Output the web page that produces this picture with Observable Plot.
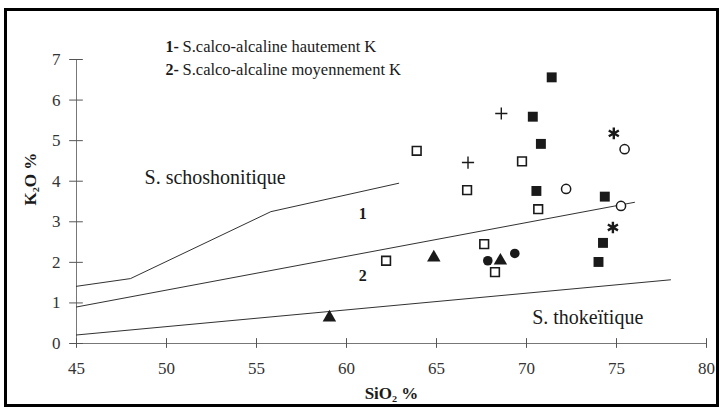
<!DOCTYPE html>
<html>
<head>
<meta charset="utf-8">
<script src="https://cdn.jsdelivr.net/npm/d3@7"></script>
<script src="https://cdn.jsdelivr.net/npm/@observablehq/plot@0.6"></script>
<style>
  html, body { margin: 0; padding: 0; background: #fff; }
  #chart { width: 722px; height: 410px; }
</style>
</head>
<body>
<div id="chart"></div>
<script>
// Axis ticks
const xTicks = [45, 50, 55, 60, 65, 70, 75, 80];
const yTicks = [0, 1, 2, 3, 4, 5, 6, 7];

// Field boundaries (SiO2 %, K2O %)
const shoshoniticBoundary = [[45, 1.41], [48, 1.6], [55.8, 3.25], [62.9, 3.95]];
const highKBoundary = [[45, 0.9], [76, 3.48]];
const tholeiiticBoundary = [[45, 0.21], [78, 1.57]];

// Samples (SiO2 %, K2O %)
const filledSquares = [[71.4, 6.56], [70.35, 5.59], [70.8, 4.92], [70.55, 3.76], [74.35, 3.62], [74.25, 2.48], [74.0, 2.01]];
const openSquares = [[63.9, 4.75], [66.7, 3.78], [69.75, 4.49], [70.65, 3.31], [67.65, 2.45], [62.2, 2.04], [68.25, 1.76]];
const crosses = [[68.6, 5.67], [66.75, 4.46]];
const asterisks = [[74.85, 5.18], [74.8, 2.86]];
const openCircles = [[75.45, 4.79], [72.2, 3.81], [75.25, 3.39]];
const filledCircles = [[67.85, 2.04], [69.35, 2.22]];
const filledTriangles = [[59.05, 0.64], [64.85, 2.12], [68.55, 2.04]];

// Field names and zone numbers (SiO2 %, K2O %)
const fieldNames = [["S. schoshonitique", 52.7, 4.09], ["S. thokeïtique", 73.4, 0.63]];
const zoneNumbers = [["1", 60.9, 3.19], ["2", 60.9, 1.67]];

// Legend of the numbered zones
const legendNumbers = ["1-", "2-"];
const legendTexts = ["S.calco-alcaline hautement K", "S.calco-alcaline moyennement K"];

const pts = a => a.map(([x, y]) => ({x, y}));
const ink = "#1a1a1a";
const serif = "Liberation Serif";

// one legend row: bold number followed by the description
const legendRow = (i, dy) => [
  Plot.text([legendNumbers[i]], {frameAnchor: "top-left", dx: 89, dy, textAnchor: "start", lineAnchor: "middle", fontSize: 16, fontWeight: "bold", fontFamily: serif, fill: ink}),
  Plot.text([legendTexts[i]], {frameAnchor: "top-left", dx: 106, dy, textAnchor: "start", lineAnchor: "middle", fontSize: 16.5, fontFamily: serif, fill: ink})
];

const chart = Plot.plot({
  width: 722,
  height: 410,
  marginLeft: 76,
  marginRight: 16,
  marginTop: 59,
  marginBottom: 67,
  style: {fontFamily: serif, fontSize: "15px", background: "#fff", color: ink},
  x: {domain: [45, 80]},
  y: {domain: [0, 7]},
  marks: [
    // axis lines and crossing ticks
    Plot.ruleY([0], {stroke: "#777", strokeWidth: 1}),
    Plot.ruleX([45], {stroke: "#777", strokeWidth: 1}),
    Plot.ruleX(xTicks, {x: d => d, y1: -0.12, y2: 0.12, stroke: "#555"}),
    Plot.ruleY(yTicks, {y: d => d, x1: 44.62, x2: 45.38, stroke: "#555"}),
    Plot.axisX({ticks: xTicks, tickFormat: d => String(d), tickSize: 0, tickPadding: 18, label: null, fill: "#333", fontSize: 17, fontFamily: serif}),
    Plot.axisY({ticks: yTicks, tickFormat: d => String(d), tickSize: 0, tickPadding: 16, label: null, fill: "#333", fontSize: 17, fontFamily: serif}),

    // field boundaries
    Plot.line(pts(shoshoniticBoundary), {x: "x", y: "y", stroke: ink, strokeWidth: 0.9}),
    Plot.line(pts(highKBoundary), {x: "x", y: "y", stroke: ink, strokeWidth: 0.9}),
    Plot.line(pts(tholeiiticBoundary), {x: "x", y: "y", stroke: ink, strokeWidth: 0.9}),

    // samples
    Plot.dot(pts(filledSquares), {x: "x", y: "y", symbol: "square", r: 5.6, fill: ink, stroke: "none"}),
    Plot.dot(pts(openSquares), {x: "x", y: "y", symbol: "square", r: 4.9, fill: "#fff", stroke: ink, strokeWidth: 1.6}),
    Plot.dot(pts(crosses), {x: "x", y: "y", symbol: "plus", r: 4, fill: "none", stroke: ink, strokeWidth: 1.4}),
    Plot.dot(pts(asterisks), {x: "x", y: "y", symbol: "asterisk", r: 5.5, fill: "none", stroke: ink, strokeWidth: 2.4}),
    Plot.dot(pts(openCircles), {x: "x", y: "y", symbol: "circle", r: 4.6, fill: "#fff", stroke: ink, strokeWidth: 1.5}),
    Plot.dot(pts(filledCircles), {x: "x", y: "y", symbol: "circle", r: 4.8, fill: ink, stroke: "none"}),
    Plot.dot(pts(filledTriangles), {x: "x", y: "y", symbol: "triangle", r: 5, fill: ink, stroke: "none"}),

    // field names and zone numbers
    Plot.text(fieldNames, {x: d => d[1], y: d => d[2], text: d => d[0], fontSize: 20, fontFamily: serif, fill: ink}),
    Plot.text(zoneNumbers, {x: d => d[1], y: d => d[2], text: d => d[0], fontSize: 16, fontWeight: "bold", fontFamily: serif, fill: ink}),

    // legend
    ...legendRow(0, -13),
    ...legendRow(1, 10),

    // axis titles
    Plot.text(["SiO₂ %"], {frameAnchor: "bottom", dy: 55, fontSize: 17, fontWeight: "bold", fontFamily: serif, fill: ink}),
    Plot.text(["K₂O %"], {frameAnchor: "left", dx: -46, dy: 4, rotate: -90, fontSize: 17, fontWeight: "bold", fontFamily: serif, fill: ink})
  ]
});

// outer frame around the whole figure
d3.select(chart).append("rect")
  .attr("x", 5.5).attr("y", 9.5)
  .attr("width", 712).attr("height", 396)
  .attr("fill", "none").attr("stroke", "#000").attr("stroke-width", 3);

document.getElementById("chart").appendChild(chart);
</script>
</body>
</html>
